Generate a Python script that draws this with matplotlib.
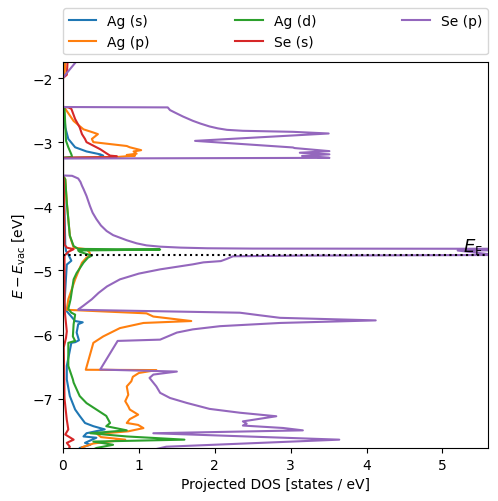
import matplotlib
matplotlib.use("Agg")
import matplotlib.pyplot as plt

# energies (eV, vs vacuum) and projected DOS for each channel
ag_s_E = [-1.70, -1.95, -2.00, -2.45, -2.46, -2.77, -2.95, -3.08, -3.145, -3.19, -3.21, -3.235, -3.245,
          -3.52, -3.55, -4.60, -4.70, -4.75, -4.85, -4.91, -5.50, -5.61, -5.79, -5.81, -5.84, -5.97,
          -6.09, -6.12, -6.13, -6.49, -6.70, -6.96, -7.17, -7.27, -7.38, -7.43, -7.48, -7.54, -7.59,
          -7.61, -7.69, -7.72, -7.77, -7.85]
ag_s_dos = [0.03, 0.01, 0.0, 0.0, 0.01, 0.03, 0.07, 0.16, 0.31, 0.49, 0.53, 0.45, 0.0,
            0.0, 0.01, 0.03, 0.04, 0.07, 0.11, 0.05, 0.02, 0.03, 0.16, 0.26, 0.20, 0.18,
            0.21, 0.16, 0.11, 0.05, 0.05, 0.09, 0.16, 0.22, 0.29, 0.40, 0.55, 0.31, 0.27,
            0.44, 0.29, 0.36, 0.22, 0.20]

ag_p_E = [-1.70, -1.75, -1.95, -2.00, -2.45, -2.46, -2.48, -2.67, -2.80, -2.85, -2.875, -2.95, -3.00,
          -3.03, -3.06, -3.08, -3.125, -3.145, -3.18, -3.20, -3.21, -3.23, -3.245, -3.52, -3.58,
          -3.94, -4.46, -4.645, -4.67, -4.72, -4.77, -4.80, -4.88, -5.14, -5.45, -5.61, -5.615,
          -5.67, -5.72, -5.79, -5.82, -5.90, -6.03, -6.13, -6.55, -6.555, -6.60, -6.66, -6.73,
          -6.81, -6.94, -7.04, -7.12, -7.17, -7.25, -7.32, -7.38, -7.41, -7.46, -7.51, -7.55,
          -7.60, -7.64, -7.70, -7.76, -7.85]
ag_p_dos = [0.04, 0.03, 0.02, 0.0, 0.0, 0.02, 0.03, 0.14, 0.27, 0.40, 0.46, 0.38, 0.40,
            0.62, 0.84, 0.88, 1.03, 0.93, 0.97, 0.84, 0.95, 0.73, 0.0, 0.0, 0.03,
            0.05, 0.09, 0.14, 0.31, 0.35, 0.36, 0.31, 0.25, 0.16, 0.07, 0.05, 0.05,
            1.10, 1.19, 1.69, 1.06, 0.75, 0.53, 0.40, 0.30, 1.23, 1.00, 0.92, 0.90,
            0.84, 0.86, 0.82, 0.86, 0.88, 0.99, 0.88, 0.84, 0.99, 1.06, 0.86, 0.45,
            0.50, 0.82, 0.40, 0.25, 0.20]

ag_d_E = [-2.44, -2.46, -2.48, -2.98, -3.08, -3.19, -3.23, -3.245, -3.52, -3.58, -3.94, -4.46,
          -4.62, -4.665, -4.675, -4.69, -4.71, -4.77, -4.80, -4.88, -5.04, -5.14, -5.45, -5.60,
          -5.66, -5.69, -5.84, -6.03, -6.10, -6.13, -6.49, -6.70, -6.75, -6.96, -7.07, -7.17,
          -7.27, -7.38, -7.43, -7.495, -7.54, -7.59, -7.64, -7.67, -7.72, -7.77, -7.85]
ag_d_dos = [0.0, 0.02, 0.02, 0.04, 0.07, 0.11, 0.12, 0.0, 0.0, 0.03, 0.05, 0.09,
            0.14, 0.20, 1.28, 0.20, 0.22, 0.38, 0.33, 0.27, 0.18, 0.14, 0.10, 0.07,
            0.11, 0.16, 0.14, 0.13, 0.16, 0.07, 0.07, 0.13, 0.14, 0.22, 0.31, 0.44,
            0.57, 0.62, 0.57, 0.84, 0.36, 0.84, 1.60, 0.40, 0.66, 0.44, 0.30]

se_s_E = [-1.70, -1.75, -1.95, -2.00, -2.45, -2.458, -2.48, -2.64, -2.77, -2.875, -2.95, -3.00,
          -3.11, -3.18, -3.21, -3.22, -3.235, -3.245, -3.52, -3.60, -4.60, -4.645, -4.67, -4.71,
          -4.77, -5.60, -5.95, -6.05, -6.20, -7.00, -7.33, -7.48, -7.56, -7.64, -7.69, -7.75, -7.85]
se_s_dos = [0.07, 0.06, 0.05, 0.0, 0.0, 0.07, 0.11, 0.16, 0.22, 0.25, 0.29, 0.31,
            0.49, 0.58, 0.62, 0.71, 0.70, 0.0, 0.0, 0.01, 0.02, 0.05, 0.14, 0.07,
            0.02, 0.02, 0.05, 0.04, 0.01, 0.02, 0.05, 0.07, 0.03, 0.14, 0.05, 0.09, 0.05]

se_p_E = [-1.70, -1.75, -1.85, -1.95, -2.00, -2.452, -2.458, -2.50, -2.536, -2.60, -2.667, -2.71,
          -2.755, -2.785, -2.808, -2.823, -2.839, -2.865, -2.98, -3.083, -3.092, -3.14, -3.165,
          -3.19, -3.215, -3.245, -3.255,
          -3.52, -3.525, -3.567, -3.62, -3.68, -3.73, -3.84, -3.995, -4.10, -4.20, -4.30, -4.386,
          -4.45, -4.49, -4.53, -4.578, -4.61, -4.63, -4.645, -4.655, -4.66,
          -4.666, -4.69, -4.76, -4.77, -4.78, -4.82, -4.855, -4.875, -4.906, -4.984, -5.05, -5.14,
          -5.25, -5.35, -5.45, -5.55, -5.61,
          -5.615, -5.66, -5.70, -5.74, -5.78, -5.82, -5.87, -5.92, -5.97, -6.08, -6.10, -6.547,
          -6.578, -6.625, -6.677, -6.81, -6.91, -6.99, -7.067, -7.16, -7.22, -7.275, -7.355,
          -7.39, -7.42, -7.458, -7.495, -7.54, -7.64, -7.75, -7.85]
se_p_dos = [0.22, 0.17, 0.10, 0.03, 0.0, 0.0, 1.38, 1.41, 1.47, 1.58, 1.71, 1.81,
            1.93, 2.04, 2.16, 2.37, 3.03, 3.50, 1.74, 3.03, 3.05, 3.51, 3.12,
            3.51, 3.15, 3.51, 0.0,
            0.0, 0.12, 0.20, 0.23, 0.25, 0.27, 0.31, 0.355, 0.39, 0.44, 0.50, 0.575,
            0.66, 0.75, 0.84, 0.97, 1.10, 1.28, 1.55, 1.90, 2.50,
            9.0, 5.2, 5.7, 3.1, 2.24, 2.16, 2.08, 1.85, 1.71, 1.28, 1.00, 0.75,
            0.58, 0.47, 0.38, 0.27, 0.20,
            0.20, 2.33, 2.59, 2.86, 4.12, 2.86, 2.07, 1.71, 1.50, 1.28, 0.72, 0.49,
            1.50, 1.19, 1.14, 1.23, 1.28, 1.41, 1.63, 1.93, 2.33, 2.81, 2.37,
            2.42, 2.37, 2.90, 3.16, 1.19, 3.64, 1.36, 1.00]

labels = ["Ag (s)", "Ag (p)", "Ag (d)", "Se (s)", "Se (p)"]
E_fermi = -4.76

fig = plt.figure(figsize=(4.98, 5.02), dpi=100)
ax = fig.add_axes([0.1265, 0.1056, 0.8535, 0.7689])

series = [(ag_s_E, ag_s_dos), (ag_p_E, ag_p_dos), (ag_d_E, ag_d_dos),
          (se_s_E, se_s_dos), (se_p_E, se_p_dos)]
for (E, dos), lab in zip(series, labels):
    ax.plot(dos, E, label=lab)

ax.axhline(E_fermi, color="k", ls=":")
ax.text(5.27, E_fermi + 0.06, r"$E_\mathrm{F}$", fontsize=13, va="baseline", ha="left")

ax.set_xlim(0, 5.6)
ax.set_ylim(-7.77, -1.75)
ax.set_xlabel("Projected DOS [states / eV]")
ax.set_ylabel(r"$E - E_\mathrm{vac}$ [eV]")
ax.legend(bbox_to_anchor=(0, 1.02, 1, 0.102), loc="lower left", ncol=3,
          mode="expand", borderaxespad=0.0)

fig.savefig("out.png", dpi=100)
